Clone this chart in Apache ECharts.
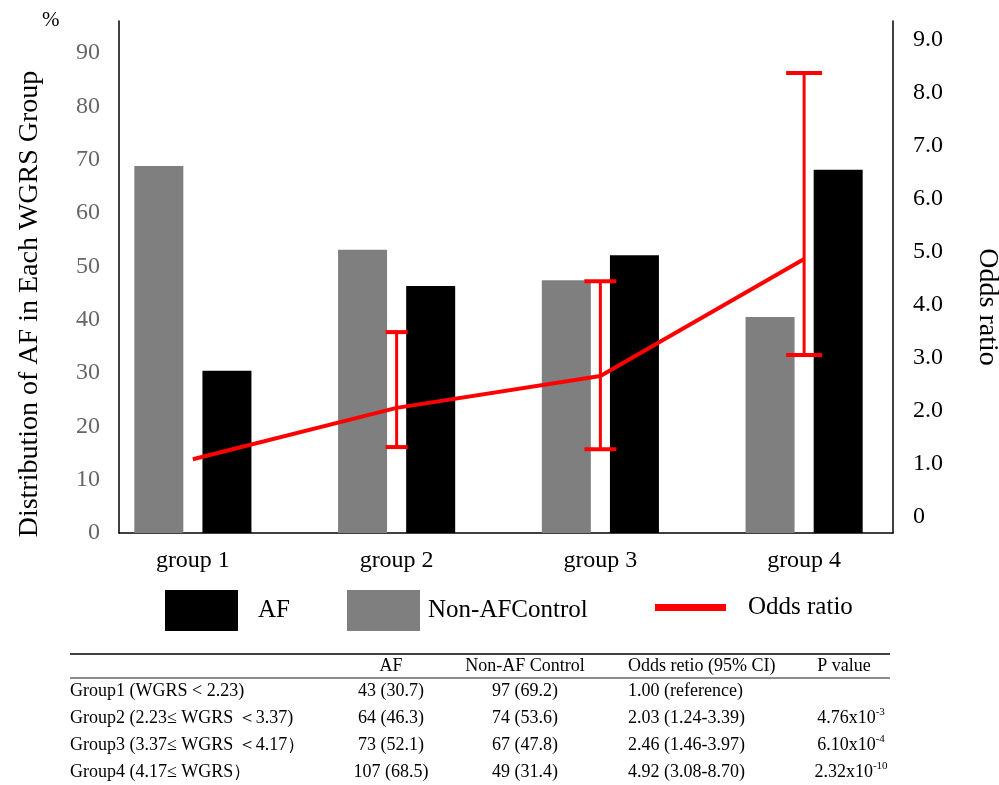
<!DOCTYPE html>
<html><head><meta charset="utf-8">
<script src="https://cdn.jsdelivr.net/npm/echarts@6/dist/echarts.min.js"></script>
<style>html,body{margin:0;padding:0;background:#fff}#c{width:999px;height:785px}</style>
</head><body><div id="c"></div>
<script>
// ---- chart data ----
const categories = ['group 1', 'group 2', 'group 3', 'group 4'];
const afPercent = [30.4, 46.3, 52.1, 68.1];
const nonAfPercent = [68.8, 53.1, 47.4, 40.5];
const oddsRatio = [1.09, 2.06, 2.66, 4.87];
const ciLow = [null, 1.32, 1.28, 3.06];
const ciHigh = [null, 3.49, 4.45, 8.38];

// ---- table text ----
const tableHeader = ['AF', 'Non-AF Control', 'Odds retio (95% CI)', 'P value'];
const rowLabels = ['Group1 (WGRS < 2.23)', 'Group2 (2.23\u2264 WGRS \uFF1C3.37)', 'Group3 (3.37\u2264 WGRS \uFF1C4.17\uFF09', 'Group4 (4.17\u2264 WGRS\uFF09'];
const afCounts = ['43 (30.7)', '64 (46.3)', '73 (52.1)', '107 (68.5)'];
const nonAfCounts = ['97 (69.2)', '74 (53.6)', '67 (47.8)', '49 (31.4)'];
const orText = ['1.00 (reference)', '2.03 (1.24-3.39)', '2.46 (1.46-3.97)', '4.92 (3.08-8.70)'];
const pMantissa = ['', '4.76x10', '6.10x10', '2.32x10'];
const pExponent = ['', '-3', '-4', '-10'];

const FONT = '"Liberation Serif", "Times New Roman", serif';
const RED = '#ff0000';
const capWidths = [0, 22, 32, 36];

// table layout
const rowY = [691, 718, 745, 772];
const headerY = 666;
const colAF = 391, colNon = 525, colOR = 628, colP = 851;

const graphics = [
  { type: 'line', shape: { x1: 70, y1: 654, x2: 890, y2: 654 }, style: { stroke: '#000', lineWidth: 1.5 } },
  { type: 'line', shape: { x1: 70, y1: 678, x2: 890, y2: 678 }, style: { stroke: '#8c8c8c', lineWidth: 2 } }
];
function txt(s, x, y, align, extra) {
  return { type: 'text', style: Object.assign({ text: s, x: x, y: y, font: '18px ' + FONT, fill: '#000', align: align, verticalAlign: 'middle' }, extra || {}) };
}
graphics.push(txt(tableHeader[0], colAF, headerY, 'center'));
graphics.push(txt(tableHeader[1], colNon, headerY, 'center'));
graphics.push(txt(tableHeader[2], colOR, headerY, 'left'));
graphics.push(txt(tableHeader[3], 844, headerY, 'center'));
rowLabels.forEach(function (r, i) {
  graphics.push(txt(r, 70, rowY[i], 'left'));
  graphics.push(txt(afCounts[i], colAF, rowY[i], 'center'));
  graphics.push(txt(nonAfCounts[i], colNon, rowY[i], 'center'));
  graphics.push(txt(orText[i], colOR, rowY[i], 'left'));
  if (pMantissa[i]) {
    graphics.push(txt(pMantissa[i] + '{sup|' + pExponent[i] + '}', colP, rowY[i], 'center', {
      rich: { sup: { font: '11px ' + FONT, verticalAlign: 'top', padding: [0, 0, 12, 0] } }
    }));
  }
});

const chart = echarts.init(document.getElementById('c'), null, { renderer: 'canvas' });
chart.setOption({
  animation: false,
  backgroundColor: '#fff',
  textStyle: { fontFamily: FONT },
  title: { text: '%', left: 42, top: 10, padding: 0, textStyle: { fontFamily: FONT, fontSize: 21, fontWeight: 'normal', color: '#000' } },
  grid: [
    { left: 91, width: 815, top: 21, height: 512, outerBoundsMode: 'none', containLabel: false },
    { left: 91, width: 815, top: 19, height: 498, outerBoundsMode: 'none', containLabel: false },
    { left: 119, width: 774, top: 21, height: 512, outerBoundsMode: 'none', containLabel: false }
  ],
  xAxis: [
    { type: 'category', gridIndex: 0, data: categories, axisLine: { show: false }, axisTick: { show: false },
      axisLabel: { margin: 16, fontSize: 24, color: '#000', fontFamily: FONT } },
    { type: 'category', gridIndex: 1, data: categories, show: false },
    { type: 'category', gridIndex: 2, data: categories, axisLine: { show: true, lineStyle: { color: '#000', width: 1.5 } },
      axisTick: { show: false }, axisLabel: { show: false } }
  ],
  yAxis: [
    { type: 'value', gridIndex: 0, min: 0, max: 96, interval: 10, offset: -28,
      axisLine: { show: false }, axisTick: { show: false }, splitLine: { show: false },
      axisLabel: { margin: 19, fontSize: 24, color: '#666666', fontFamily: FONT, showMaxLabel: false },
      name: 'Distribution of AF in Each WGRS Group', nameLocation: 'middle', nameRotate: 90, nameGap: 75,
      nameTextStyle: { fontSize: 28, color: '#000', fontFamily: FONT, padding: [0, 54, 0, 0] } },
    { type: 'value', gridIndex: 1, position: 'right', min: 0, max: 9.4, interval: 1, offset: -13,
      axisLine: { show: false }, axisTick: { show: false }, splitLine: { show: false },
      axisLabel: { margin: 20, fontSize: 24, color: '#000', fontFamily: FONT, showMaxLabel: false,
        formatter: function (v) { return v === 0 ? '0' : v.toFixed(1); } },
      name: 'Odds ratio', nameLocation: 'middle', nameRotate: -90, nameGap: 80,
      nameTextStyle: { fontSize: 28, color: '#000', fontFamily: FONT, padding: [0, 0, 0, 78] } },
    { type: 'value', gridIndex: 2, min: 0, max: 96, position: 'left',
      axisLine: { show: true, lineStyle: { color: '#000', width: 1.5 } }, axisTick: { show: false },
      axisLabel: { show: false }, splitLine: { show: false } },
    { type: 'value', gridIndex: 2, min: 0, max: 96, position: 'right',
      axisLine: { show: true, lineStyle: { color: '#000', width: 1.5 } }, axisTick: { show: false },
      axisLabel: { show: false }, splitLine: { show: false } }
  ],
  legend: [
    { data: [{ name: 'AF', icon: 'rect' }], left: 165, top: 590, padding: 0, itemWidth: 73, itemHeight: 41, selectedMode: false,
      textStyle: { fontFamily: FONT, fontSize: 25, color: '#000', padding: [0, 0, 0, 15] } },
    { data: [{ name: 'Non-AFControl', icon: 'rect' }], left: 347, top: 590, padding: 0, itemWidth: 73, itemHeight: 41, selectedMode: false,
      textStyle: { fontFamily: FONT, fontSize: 25, color: '#000', padding: [0, 0, 6, 3] } },
    { data: [{ name: 'Odds ratio', icon: 'rect' }], left: 655, top: 595, padding: 0, itemWidth: 71, itemHeight: 7, selectedMode: false,
      textStyle: { fontFamily: FONT, fontSize: 25, color: '#000', padding: [0, 0, 0, 17] } }
  ],
  series: [
    { name: 'Non-AFControl', type: 'bar', xAxisIndex: 0, yAxisIndex: 0, data: nonAfPercent, barWidth: 49, barGap: '39%',
      itemStyle: { color: '#7f7f7f' } },
    { name: 'AF', type: 'bar', xAxisIndex: 0, yAxisIndex: 0, data: afPercent, barWidth: 49, barGap: '39%',
      itemStyle: { color: '#000000' } },
    { name: 'Odds ratio', type: 'line', xAxisIndex: 1, yAxisIndex: 1, data: oddsRatio, showSymbol: false, symbol: 'none',
      lineStyle: { color: RED, width: 4 }, itemStyle: { color: RED }, z: 5 },
    { name: 'CI', type: 'custom', xAxisIndex: 1, yAxisIndex: 1, z: 5,
      data: categories.map(function (c, i) { return ciLow[i] == null ? null : [i, ciLow[i], ciHigh[i]]; }).filter(function (d) { return d; }),
      renderItem: function (params, api) {
        const idx = api.value(0);
        const lo = api.coord([idx, api.value(1)]);
        const hi = api.coord([idx, api.value(2)]);
        const w = capWidths[idx] / 2;
        return { type: 'group', children: [
          { type: 'line', shape: { x1: lo[0], y1: lo[1], x2: hi[0], y2: hi[1] }, style: { stroke: RED, lineWidth: 3 } },
          { type: 'line', shape: { x1: lo[0] - w, y1: lo[1], x2: lo[0] + w, y2: lo[1] }, style: { stroke: RED, lineWidth: 4 } },
          { type: 'line', shape: { x1: hi[0] - w, y1: hi[1], x2: hi[0] + w, y2: hi[1] }, style: { stroke: RED, lineWidth: 4 } }
        ] };
      } }
  ],
  graphic: graphics
});
</script></body></html>
